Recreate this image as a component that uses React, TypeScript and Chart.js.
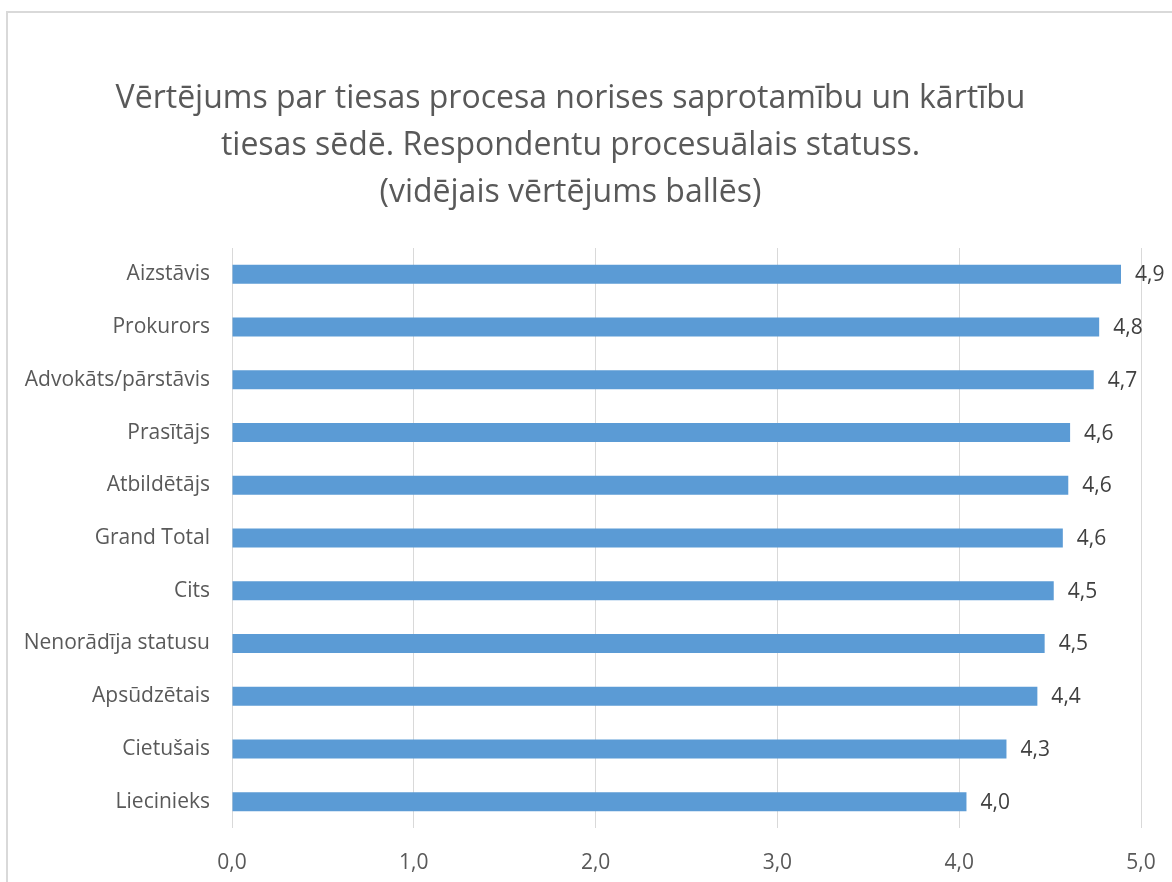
import React, { useEffect, useRef } from "react";
import { Chart, registerables } from "chart.js";

Chart.register(...registerables);

const categories: string[] = [
  "Aizstāvis",
  "Prokurors",
  "Advokāts/pārstāvis",
  "Prasītājs",
  "Atbildētājs",
  "Grand Total",
  "Cits",
  "Nenorādīja statusu",
  "Apsūdzētais",
  "Cietušais",
  "Liecinieks",
];

const values: number[] = [4.89, 4.77, 4.74, 4.61, 4.6, 4.57, 4.52, 4.47, 4.43, 4.26, 4.04];

const titleLines: string[] = [
  "Vērtējums par tiesas procesa norises saprotamību un kārtību",
  "tiesas sēdē. Respondentu procesuālais statuss.",
  "(vidējais vērtējums ballēs)",
];

const xMin = 0;
const xMax = 5;
const xStep = 1;

const FONT = "'Open Sans', Lato, sans-serif";
const TEXT = "#595959";

const dataLabelPlugin = {
  id: "dataLabels",
  afterDatasetsDraw(chart: any) {
    const ctx = chart.ctx;
    const meta = chart.getDatasetMeta(0);
    ctx.save();
    ctx.font = `21px ${FONT}`;
    ctx.fillStyle = "#404040";
    ctx.textAlign = "left";
    ctx.textBaseline = "middle";
    meta.data.forEach((bar: any, i: number) => {
      const v = values[i];
      ctx.fillText(v.toFixed(1).replace(".", ","), bar.x + 14, bar.y + 1);
    });
    ctx.restore();
  },
};

export default function App() {
  const ref = useRef<HTMLCanvasElement | null>(null);

  useEffect(() => {
    if (!ref.current) return;
    const chart = new Chart(ref.current, {
      type: "bar",
      data: {
        labels: categories,
        datasets: [
          {
            data: values,
            backgroundColor: "#5b9bd5",
            borderWidth: 0,
            barPercentage: 0.36,
            categoryPercentage: 1,
          },
        ],
      },
      options: {
        indexAxis: "y",
        animation: false,
        responsive: false,
        maintainAspectRatio: false,
        layout: { padding: { top: 12, right: 31, bottom: 0, left: 0 } },
        plugins: {
          legend: { display: false },
          tooltip: { enabled: false },
          title: {
            display: true,
            text: titleLines,
            color: TEXT,
            font: { family: FONT, size: 32, weight: "normal", lineHeight: 47 / 32 },
            padding: { top: 63, bottom: 32 },
          },
        },
        scales: {
          x: {
            min: xMin,
            max: xMax,
            afterFit: (axis: any) => {
              axis.height = 54;
              axis.paddingLeft = 0;
              axis.paddingRight = 0;
            },
            ticks: {
              stepSize: xStep,
              color: TEXT,
              font: { family: FONT, size: 21 },
              padding: 22,
              callback: (v: any) => Number(v).toFixed(1).replace(".", ","),
            },
            grid: { color: "#d9d9d9", lineWidth: 1, drawTicks: false },
            border: { display: false },
          },
          y: {
            afterFit: (axis: any) => {
              axis.width = 232;
              axis.paddingTop = 0;
              axis.paddingBottom = 0;
            },
            ticks: {
              color: TEXT,
              font: { family: FONT, size: 21 },
              padding: 22,
            },
            grid: { display: false, drawTicks: false },
            border: { display: false },
          },
        },
      },
      plugins: [dataLabelPlugin],
    });
    return () => chart.destroy();
  }, []);

  return (
    <div
      style={{
        position: "absolute",
        left: 0,
        top: 0,
        width: 1172,
        height: 882,
        overflow: "hidden",
        background: "#fff",
      }}
    >
      <div
        style={{
          position: "absolute",
          left: 6,
          top: 11,
          width: 1200,
          height: 900,
          border: "2px solid #d9d9d9",
          boxSizing: "border-box",
        }}
      />
      <canvas
        ref={ref}
        width={1172}
        height={882}
        style={{ position: "absolute", left: 0, top: 0, width: 1172, height: 882 }}
      />
    </div>
  );
}
